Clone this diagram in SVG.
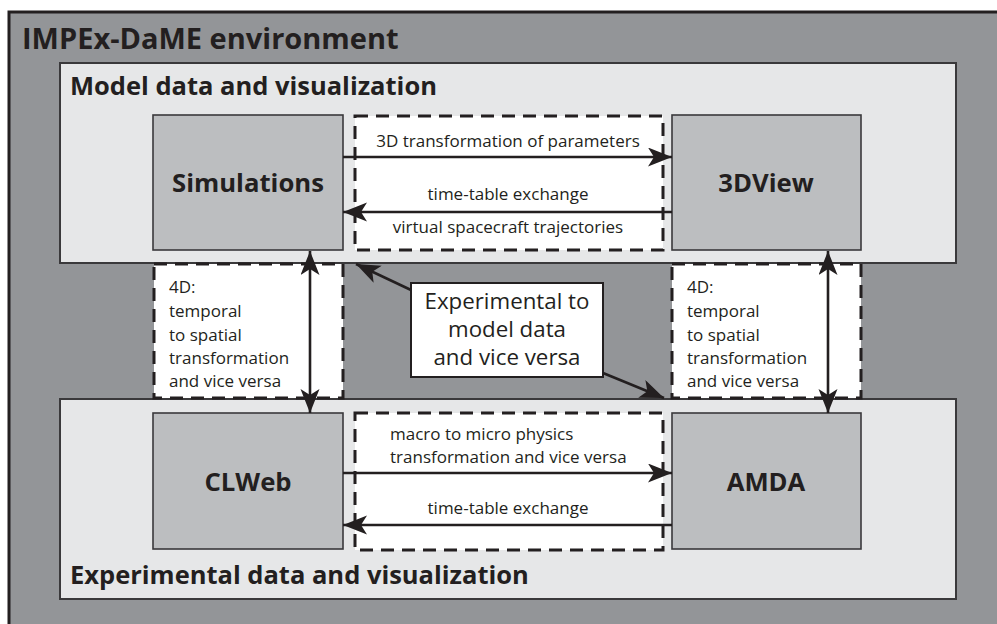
<svg xmlns="http://www.w3.org/2000/svg" width="997" height="624" viewBox="0 0 997 624">
<style>
text{font-family:"Open Sans","Noto Sans","DejaVu Sans",sans-serif;fill:#231f20}
.h{font-weight:bold;font-size:29px}
.p{font-weight:bold;font-size:25.5px}
.n{font-weight:bold;font-size:25.7px;text-anchor:middle}
.s{font-size:17px}
.c{text-anchor:middle}
.e{font-size:22.3px;text-anchor:middle}
.panel{fill:#e6e7e8;stroke:#3a393b;stroke-width:2}
.node{fill:#bcbec0;stroke:#3a393b;stroke-width:1.6}
.dash{fill:#fff;stroke:#231f20;stroke-width:3;stroke-dasharray:13 8}
.ar{stroke:#231f20;stroke-width:2.6;fill:none;marker-end:url(#ah)}
.ar2{stroke:#231f20;stroke-width:2.6;fill:none;marker-end:url(#ah);marker-start:url(#ah)}
</style>
<defs>
<marker id="ah" markerUnits="userSpaceOnUse" markerWidth="26" markerHeight="20" viewBox="0 0 26 20" refX="24" refY="9.5" orient="auto-start-reverse">
<path d="M0,0 L24,9.5 L0,19 L6,9.5 Z" fill="#231f20"/>
</marker>
</defs>
<g id="environment">
<rect x="9" y="12" width="1000" height="620" fill="#939598" stroke="#231f20" stroke-width="3"/>
<text class="h" x="22" y="49">IMPEx-DaME environment</text>
</g>
<g id="model-panel">
<rect class="panel" x="60" y="63" width="896" height="200"/>
<text class="p" x="70" y="95">Model data and visualization</text>
</g>
<g id="experimental-panel">
<rect class="panel" x="60" y="399" width="896" height="200"/>
<text class="p" x="70" y="584">Experimental data and visualization</text>
</g>
<g id="simulations">
<rect class="node" x="153" y="115" width="190" height="135"/>
<text class="n" x="248" y="192">Simulations</text>
</g>
<g id="3dview">
<rect class="node" x="672" y="115" width="189" height="135"/>
<text class="n" x="766" y="192">3DView</text>
</g>
<g id="clweb">
<rect class="node" x="153" y="413" width="190" height="136"/>
<text class="n" x="248" y="491">CLWeb</text>
</g>
<g id="amda">
<rect class="node" x="672" y="413" width="189" height="136"/>
<text class="n" x="766" y="491">AMDA</text>
</g>
<g id="top-exchange">
<rect class="dash" x="355" y="116" width="308" height="134"/>
</g>
<g id="left-4d">
<rect class="dash" x="154" y="264" width="189" height="134"/>
<text class="s" x="169" y="293">4D:</text>
<text class="s" x="169" y="317">temporal</text>
<text class="s" x="169" y="341">to spatial</text>
<text class="s" x="169" y="364">transformation</text>
<text class="s" x="169" y="387">and vice versa</text>
</g>
<g id="right-4d">
<rect class="dash" x="672" y="264" width="189" height="134"/>
<text class="s" x="687" y="293">4D:</text>
<text class="s" x="687" y="317">temporal</text>
<text class="s" x="687" y="341">to spatial</text>
<text class="s" x="687" y="364">transformation</text>
<text class="s" x="687" y="387">and vice versa</text>
</g>
<g id="bottom-exchange">
<rect class="dash" x="355" y="413" width="308" height="137"/>
</g>
<g id="experimental-to-model">
<rect x="411" y="283" width="192" height="94" fill="#fff" stroke="#231f20" stroke-width="2"/>
<text class="e" x="507" y="309">Experimental to</text>
<text class="e" x="507" y="337">model data</text>
<text class="e" x="507" y="365">and vice versa</text>
</g>
<g id="connectors">
<line class="ar" x1="343" y1="157" x2="672" y2="157"/>
<line class="ar" x1="672" y1="212" x2="343" y2="212"/>
<line class="ar" x1="343" y1="473" x2="672" y2="473"/>
<line class="ar" x1="672" y1="525" x2="343" y2="525"/>
<line class="ar2" x1="310" y1="251" x2="310" y2="413"/>
<line class="ar2" x1="828" y1="251" x2="828" y2="413"/>
<line class="ar" x1="411" y1="290" x2="356" y2="264"/>
<line class="ar" x1="603" y1="373" x2="664" y2="398"/>
<text class="s c" x="508" y="147">3D transformation of parameters</text>
<text class="s c" x="508" y="200">time-table exchange</text>
<text class="s c" x="508" y="233">virtual spacecraft trajectories</text>
<text class="s" x="390" y="440">macro to micro physics</text>
<text class="s" x="390" y="463">transformation and vice versa</text>
<text class="s c" x="508" y="514">time-table exchange</text>
</g>
</svg>
